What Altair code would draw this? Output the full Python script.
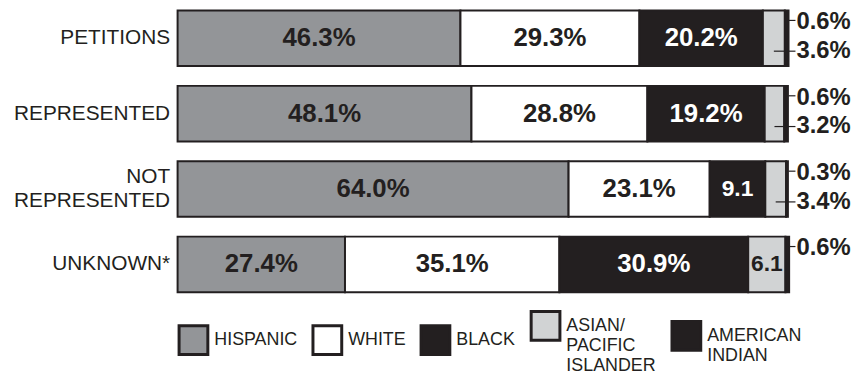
import altair as alt
import pandas as pd

# ---- data ----
categories = ["PETITIONS", "REPRESENTED", "NOT|REPRESENTED", "UNKNOWN*"]
races = ["HISPANIC", "WHITE", "BLACK", "ASIAN/|PACIFIC|ISLANDER", "AMERICAN|INDIAN"]
hispanic = [46.3, 48.1, 64.0, 27.4]
white = [29.3, 28.8, 23.1, 35.1]
black = [20.2, 19.2, 9.1, 30.9]
asian = [3.6, 3.2, 3.4, 6.1]
amindian = [0.6, 0.6, 0.3, 0.6]
inner_labels = [
    ["46.3%", "29.3%", "20.2%", "", ""],
    ["48.1%", "28.8%", "19.2%", "", ""],
    ["64.0%", "23.1%", "9.1", "", ""],
    ["27.4%", "35.1%", "30.9%", "6.1", ""],
]
top_labels = ["0.6%", "0.6%", "0.3%", "0.6%"]
mid_labels = ["3.6%", "3.2%", "3.4%", ""]

colors = ["#939598", "#ffffff", "#231f20", "#d1d3d4", "#231f20"]
text_colors = ["#231f20", "#231f20", "#ffffff", "#231f20", "#ffffff"]
DARK = "#231f20"
FONT = "Liberation Sans"

rows = []
series = [hispanic, white, black, asian, amindian]
for ci, cat in enumerate(categories):
    for ri, race in enumerate(races):
        rows.append({
            "cat": cat,
            "race": race,
            "order": ri,
            "pct": series[ri][ci],
            "label": inner_labels[ci][ri],
            "tcolor": text_colors[ri],
            "top": top_labels[ci],
            "midl": mid_labels[ci],
        })
df = pd.DataFrame(rows)

yenc = alt.Y(
    "cat:N",
    sort=categories,
    scale=alt.Scale(paddingInner=0.263, paddingOuter=0),
    axis=alt.Axis(
        title=None, domain=False, ticks=False, labelFontSize=21, labelFont=FONT,
        labelColor=DARK, labelPadding=8, minExtent=163, maxExtent=163,
        labelExpr="split(datum.value, '|')", labelLineHeight=24, labelLimit=0,
        labelOffset={"condition": {"test": "indexof(datum.value, '|') >= 0", "value": -12}, "value": 0},
    ),
)
xscale = alt.Scale(domain=[0, 100], nice=False, zero=True)

base = alt.Chart(df).transform_stack(
    stack="pct", as_=["x0", "x1"], groupby=["cat"], sort=[alt.SortField("order", "ascending")]
).transform_calculate(mid="(datum.x0 + datum.x1) / 2", endx="100")

bars = base.mark_bar(stroke=DARK, strokeWidth=2).encode(
    x=alt.X("x0:Q", scale=xscale, axis=None),
    x2="x1:Q",
    y=yenc,
    color=alt.Color(
        "race:N",
        scale=alt.Scale(domain=races, range=colors),
        sort=races,
        legend=alt.Legend(
            title=None, orient="none", direction="horizontal", legendX=0, legendY=302,
            symbolType="square", symbolSize=841, symbolStrokeColor=DARK, symbolStrokeWidth=3,
            symbolOpacity=1, labelFontSize=18, labelFont=FONT, labelColor=DARK,
            labelExpr="split(datum.label, '|')", labelOffset=5, columnPadding=9, labelLimit=0,
        ),
    ),
    order=alt.Order("order:Q"),
)

inner_long = base.transform_filter("length(datum.label) >= 4").mark_text(
    fontWeight="bold", font=FONT, fontSize=26, baseline="middle", align="center"
).encode(
    x=alt.X("mid:Q", scale=xscale),
    y=alt.Y("cat:N", sort=categories),
    text="label:N",
    color=alt.Color("tcolor:N", scale=None),
)
inner_short = base.transform_filter("datum.label != '' && length(datum.label) < 4").mark_text(
    fontWeight="bold", font=FONT, fontSize=23, baseline="middle", align="center"
).encode(
    x=alt.X("mid:Q", scale=xscale),
    y=alt.Y("cat:N", sort=categories),
    text="label:N",
    color=alt.Color("tcolor:N", scale=None),
)

top_base = base.transform_filter("datum.order == 4")
top_rule = top_base.mark_rule(color=DARK, strokeWidth=1.2, yOffset=-18, x2Offset=7).encode(
    x=alt.X("endx:Q", scale=xscale), x2="endx:Q", y=alt.Y("cat:N", sort=categories)
)
top_text = top_base.mark_text(
    fontSize=24, fontWeight="bold", font=FONT, align="left", baseline="middle", dx=8, dy=-16, color=DARK
).encode(x=alt.X("endx:Q", scale=xscale), y=alt.Y("cat:N", sort=categories), text="top:N")

mid_base = base.transform_filter("datum.order == 3 && datum.midl != ''")
mid_rule = mid_base.mark_rule(color=DARK, strokeWidth=1.2, yOffset=13, x2Offset=7).encode(
    x=alt.X("mid:Q", scale=xscale), x2="endx:Q", y=alt.Y("cat:N", sort=categories)
)
mid_text = mid_base.mark_text(
    fontSize=24, fontWeight="bold", font=FONT, align="left", baseline="middle", dx=8, dy=13, color=DARK
).encode(x=alt.X("endx:Q", scale=xscale), y=alt.Y("cat:N", sort=categories), text="midl:N")

chart = alt.layer(bars, inner_long, inner_short, top_rule, top_text, mid_rule, mid_text).properties(
    width=616, height=284, padding={"left": 5, "top": 0, "right": 0, "bottom": 0}
).configure_view(stroke=None)

chart.save("out.html", embed_options={"renderer": "svg", "actions": False})
